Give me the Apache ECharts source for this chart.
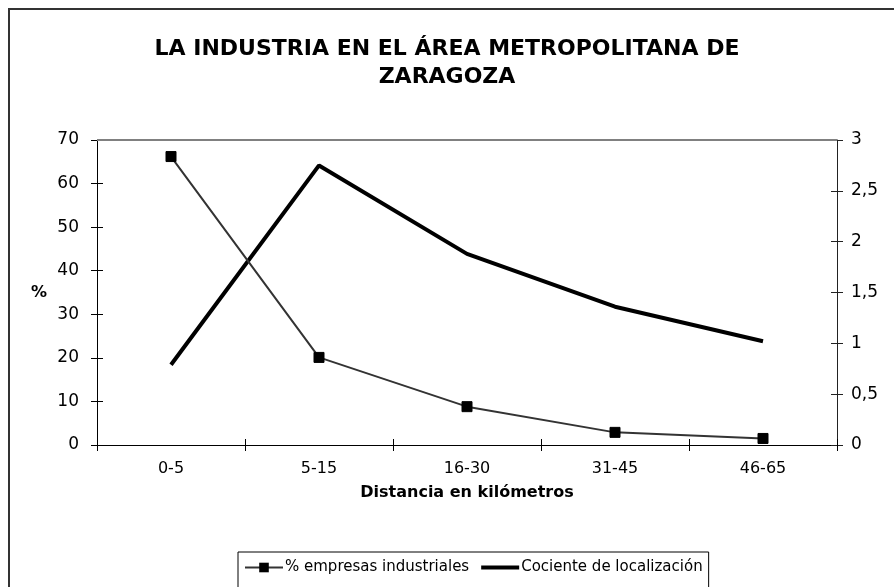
<!DOCTYPE html>
<html>
<head>
<meta charset="utf-8">
<script src="https://cdn.jsdelivr.net/npm/echarts@6/dist/echarts.min.js"></script>
<style>
html,body{margin:0;padding:0;background:#fff;}
#c{width:894px;height:587px;}
</style>
</head>
<body>
<div id="c"></div>
<script>
const categories = ['0-5', '5-15', '16-30', '31-45', '46-65'];
const empresas = [66.2, 20.1, 8.8, 2.9, 1.5];
const cociente = [0.79, 2.75, 1.88, 1.36, 1.02];
const leftTicks = { min: 0, max: 70, interval: 10 };
const rightTicks = { min: 0, max: 3, interval: 0.5 };
const titleLines = 'LA INDUSTRIA EN EL ÁREA METROPOLITANA DE\nZARAGOZA';
const seriesNames = ['% empresas industriales', 'Cociente de localización'];

const FONT = '"DejaVu Sans", "Liberation Sans", Arial, sans-serif';
const chart = echarts.init(document.getElementById('c'), null, { renderer: 'canvas' });

const fmtComma = v => String(v).replace('.', ',');

chart.setOption({
  animation: false,
  backgroundColor: '#fff',
  textStyle: { fontFamily: FONT },
  title: {
    text: titleLines,
    left: 'center',
    top: 30,
    textStyle: { fontFamily: FONT, fontSize: 22, fontWeight: 'bold', color: '#000', lineHeight: 28 }
  },
  graphic: [
    { type: 'rect', shape: { x: 9, y: 9, width: 1000, height: 1000 }, style: { fill: 'none', stroke: '#333', lineWidth: 2 }, silent: true, z: 0 }
  ],
  legend: {
    data: [
      { name: seriesNames[0] },
      { name: seriesNames[1], icon: 'path://M0,0H38V4H0Z', itemStyle: { color: '#000', borderWidth: 0 } }
    ],
    left: 238,
    top: 552,
    itemWidth: 38,
    itemHeight: 12,
    itemGap: 12,
    padding: [8, 6, 20, 6],
    borderColor: '#000',
    borderWidth: 1,
    textStyle: { fontFamily: FONT, fontSize: 15, color: '#000', padding: [0, 0, 0, -3] }
  },
  grid: { left: 97, right: 57, top: 140, bottom: 142 },
  xAxis: [
    {
      type: 'category', data: categories, boundaryGap: true,
      axisLine: { lineStyle: { color: '#000', width: 1 } },
      axisTick: { show: true, length: 6, lineStyle: { color: '#000' } },
      axisLabel: { color: '#000', fontSize: 16, margin: 16, fontFamily: FONT },
      name: 'Distancia en kilómetros', nameLocation: 'middle', nameGap: 40,
      nameTextStyle: { fontFamily: FONT, fontSize: 16, fontWeight: 'bold', color: '#000' },
      splitLine: { show: false }
    },
    {
      type: 'category', data: categories, boundaryGap: true, position: 'bottom',
      axisLine: { show: false },
      axisTick: { show: true, inside: true, length: 6, lineStyle: { color: '#000' } },
      axisLabel: { show: false }, splitLine: { show: false }
    }
  ],
  yAxis: [
    {
      type: 'value', position: 'left', min: leftTicks.min, max: leftTicks.max, interval: leftTicks.interval,
      axisLine: { show: true, lineStyle: { color: '#000' } },
      axisTick: { show: true, length: 6, lineStyle: { color: '#000' } },
      axisLabel: { color: '#000', fontSize: 17, margin: 18, fontFamily: FONT },
      splitLine: { show: false },
      name: '%', nameLocation: 'middle', nameGap: 50, nameRotate: 0,
      nameTextStyle: { fontFamily: FONT, fontSize: 16, fontWeight: 'bold', color: '#000' }
    },
    {
      type: 'value', position: 'right', min: rightTicks.min, max: rightTicks.max, interval: rightTicks.interval,
      axisLine: { show: true, lineStyle: { color: '#222' } },
      axisTick: { show: true, length: 6, lineStyle: { color: '#222' } },
      axisLabel: { color: '#000', fontSize: 17, margin: 14, fontFamily: FONT, formatter: fmtComma },
      splitLine: { show: false }
    },
    {
      type: 'value', position: 'left', min: leftTicks.min, max: leftTicks.max, interval: leftTicks.interval,
      axisLine: { show: false },
      axisTick: { show: true, inside: true, length: 6, lineStyle: { color: '#000' } },
      axisLabel: { show: false },
      splitLine: { show: false }
    },
    {
      type: 'value', position: 'right', min: rightTicks.min, max: rightTicks.max, interval: rightTicks.interval,
      axisLine: { show: false },
      axisTick: { show: true, inside: true, length: 6, lineStyle: { color: '#222' } },
      axisLabel: { show: false },
      splitLine: { show: false }
    }
  ],
  series: [
    {
      name: seriesNames[0], type: 'line', xAxisIndex: 0, yAxisIndex: 0, data: empresas,
      symbol: 'rect', symbolSize: 10, showSymbol: true,
      lineStyle: { color: '#333', width: 2 },
      itemStyle: { color: '#000', borderColor: '#000' },
      z: 3
    },
    {
      name: seriesNames[1], type: 'line', xAxisIndex: 0, yAxisIndex: 1, data: cociente,
      symbol: 'none', showSymbol: false,
      lineStyle: { color: '#000', width: 4 },
      itemStyle: { color: '#000' },
      z: 2
    },
    {
      name: 'top', type: 'line', xAxisIndex: 0, yAxisIndex: 0, data: [],
      markLine: {
        silent: true, symbol: 'none', label: { show: false },
        lineStyle: { color: '#808080', width: 2, type: 'solid' },
        data: [{ yAxis: leftTicks.max }]
      }
    }
  ]
});
</script>
</body>
</html>
